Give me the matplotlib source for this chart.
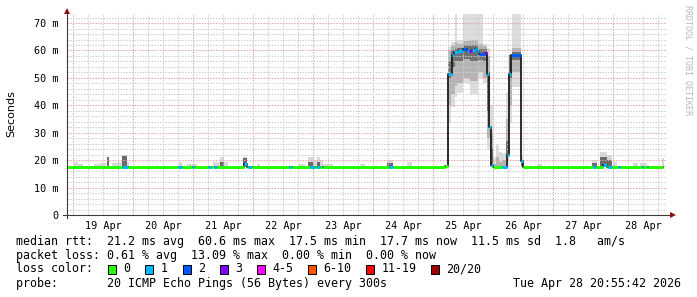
import matplotlib
matplotlib.use("Agg")
import matplotlib.pyplot as plt
from matplotlib.patches import Rectangle

# Data (time in hours since 19 Apr 00:00, rtt in ms)
#========================================#
day_labels = ["19 Apr", "20 Apr", "21 Apr", "22 Apr", "23 Apr",
              "24 Apr", "25 Apr", "26 Apr", "27 Apr", "28 Apr"]

# median rtt as steps: start of each step, value, loss class
seg_start = [-2.4, 19.6, 22.0, 42.0, 43.4, 47.6, 48.4, 54.0, 55.0, 56.2,
             57.4, 68.4, 69.6, 70.0, 71.6, 86.4, 87.6, 94.8, 96.8, 97.6,
             98.8, 99.6, 100.0, 126.4, 128.0, 148.8, 149.8, 151.5, 152.4, 154.0,
             155.9, 157.5, 158.5, 159.5, 160.8, 161.7, 162.5, 164.8, 165.7, 166.5,
             167.2, 168.1, 171.5, 173.5, 174.4, 175.3, 179.0, 180.1, 208.0, 209.2,
             212.1, 213.5, 214.1, 215.5, 218.0, 218.8, 227.5, 228.1, 229.5, 230.1]
seg_value = [17.5, 17.5, 17.5, 17.5, 17.5, 17.5, 17.5, 17.5, 17.5, 17.5,
             17.5, 18.6, 17.5, 17.5, 17.5, 17.5, 17.5, 17.5, 17.5, 17.5,
             17.5, 17.5, 17.5, 17.5, 17.5, 18.0, 51.3, 58.4, 59.4, 59.8,
             60.7, 59.8, 59.8, 60.1, 60.7, 59.8, 58.8, 59.2, 51.5, 32.0,
             18.2, 17.5, 17.5, 21.8, 51.3, 58.5, 19.8, 17.5, 17.5, 17.5,
             18.3, 17.5, 17.5, 17.5, 17.5, 17.5, 17.5, 17.5, 17.5, 17.5]
seg_loss = [0, 1, 0, 1, 0, 1, 0, 1, 0, 1,
            0, 1, 0, 1, 0, 1, 0, 1, 0, 1,
            0, 1, 0, 1, 0, 0, 1, 1, 1, 1,
            2, 1, 3, 1, 1, 1, 2, 3, 1, 1,
            1, 0, 1, 1, 1, 2, 1, 0, 1, 0,
            1, 0, 1, 0, 1, 0, 1, 0, 1, 0]
data_end = 236.1

# small smoke bursts above the baseline
burst_t0 = [0.4, 2.0, 8.4, 10.8, 13.6, 15.6, 17.6, 19.6, 21.6, 42.4,
            45.6, 56.0, 58.8, 60.4, 68.0, 73.6, 90.0, 94.0, 96.0, 97.6,
            98.8, 100.0, 114.8, 125.6, 133.6, 185.6, 207.6, 210.8, 213.6, 216.0,
            224.0, 226.8, 235.6]
burst_t1 = [2.0, 4.0, 10.8, 13.2, 14.4, 17.6, 19.6, 21.6, 22.4, 43.6,
            49.6, 58.8, 60.4, 62.0, 69.6, 74.8, 92.8, 96.0, 97.6, 98.8,
            100.0, 104.0, 116.8, 128.0, 135.6, 187.6, 209.6, 213.6, 215.6, 217.6,
            226.0, 229.6, 236.4]
burst_hi = [19.3, 18.7, 18.7, 19.0, 21.3, 18.8, 19.2, 21.9, 19.2, 19.3,
            18.7, 19.5, 21.0, 19.5, 21.3, 18.5, 18.7, 21.0, 20.0, 21.0,
            20.0, 18.7, 18.7, 19.9, 19.5, 18.7, 20.2, 23.1, 21.9, 19.5,
            18.9, 18.9, 20.7]
burst_core = [0, 0, 0, 0, 21.0, 0, 0, 21.5, 0, 0,
              0, 0, 19.5, 0, 20.8, 0, 0, 19.5, 0, 19.5,
              0, 0, 0, 19.0, 0, 0, 19.0, 21.3, 20.0, 0,
              0, 0, 0]
burst_base = 17.5

# smoke during the high latency period
plat_t0 = [150.0, 151.2, 152.8, 153.6, 156.0, 158.8, 162.0, 164.0, 165.6,
           166.8, 168.0, 169.2, 170.4, 171.6, 173.2, 174.4, 175.6, 179.2]
plat_t1 = [151.2, 152.8, 153.6, 156.0, 158.8, 162.0, 164.0, 165.6, 166.8,
           168.0, 169.2, 170.4, 171.6, 173.2, 174.4, 175.6, 179.2, 180.0]
light_lo = [33.4, 39.5, 43.1, 44.4, 48.0, 44.0, 50.0, 48.0, 23.7,
            17.5, 17.5, 17.5, 17.5, 17.5, 20.0, 33.5, 46.8, 17.5]
light_hi = [61.4, 63.2, 73.6, 63.8, 73.6, 73.6, 73.6, 62.5, 60.8,
            40.0, 21.0, 25.5, 23.0, 22.5, 45.0, 56.5, 73.6, 22.0]
mid_lo = [40, 44, 47, 48, 50, 49, 52, 50, 28,
          17.5, 17.5, 17.5, 17.5, 17.5, 21, 40, 52, 17.5]
mid_hi = [60, 62, 63, 62.5, 63.5, 64, 62.5, 61.5, 58,
          30, 18.5, 21, 19.5, 20, 35, 58, 61, 20]
core_lo = [50, 54, 56, 56, 57, 56, 56.5, 56, 38,
           17.5, 17.5, 17.5, 17.5, 17.5, 22, 50, 56.5, 17.5]
core_hi = [56, 60, 60.5, 61, 62, 62, 60.5, 60.5, 52,
           24, 17.5, 17.5, 17.5, 17.5, 27, 58.5, 59.5, 19]

loss_colors = ["#26ff00", "#00b8ff", "#0059ff", "#7e00ff",
               "#ff00ff", "#ff5500", "#ff0000", "#a10000"]
loss_labels = ["0", "1", "2", "3", "4-5", "6-10", "11-19", "20/20"]

rtt_line = "median rtt:  21.2 ms avg  60.6 ms max  17.5 ms min  17.7 ms now  11.5 ms sd  1.8   am/s"
loss_line = "packet loss: 0.61 % avg  13.09 % max  0.00 % min  0.00 % now"
probe_line = "probe:       20 ICMP Echo Pings (56 Bytes) every 300s"
stamp = "Tue Apr 28 20:55:42 2026"

#========================================#
W, H = 697, 297
fig = plt.figure(figsize=(W / 100, H / 100), dpi=100)
fig.patch.set_facecolor("white")

x0, x1, y0, y1 = 67, 667, 215, 14   # plot area in pixels
ax = fig.add_axes([x0 / W, 1 - y0 / H, (x1 - x0) / W, (y0 - y1) / H])
ax.set_xlim(-2.4, 237.6)
ax.set_ylim(0, 73.3)
for s in ax.spines.values():
    s.set_visible(False)

mono = "DejaVu Sans Mono"

# smoke
ax.bar(burst_t0, [h - burst_base for h in burst_hi],
       width=[b - a for a, b in zip(burst_t0, burst_t1)], bottom=burst_base,
       align="edge", color="#d8d8d8", linewidth=0, zorder=1)
core_idx = [i for i, c in enumerate(burst_core) if c > 0]
ax.bar([burst_t0[i] for i in core_idx], [burst_core[i] - burst_base for i in core_idx],
       width=[burst_t1[i] - burst_t0[i] for i in core_idx], bottom=burst_base,
       align="edge", color="#6a6a6a", linewidth=0, zorder=1.2)

widths = [b - a for a, b in zip(plat_t0, plat_t1)]
for lo, hi, col, z in [(light_lo, light_hi, "#dddddd", 1),
                       (mid_lo, mid_hi, "#b4b4b4", 1.1),
                       (core_lo, core_hi, "#717171", 1.2)]:
    ax.bar(plat_t0, [b - a for a, b in zip(lo, hi)], width=widths, bottom=lo,
           align="edge", color=col, linewidth=0, zorder=z)

# grid
grid_dash = (0, (1.4, 1.4))
for h in range(0, 240, 6):
    if -2.4 < h < 237.6:
        major = h % 24 == 0
        ax.axvline(h, color="#e3a3a3" if major else "#cccccc", lw=0.72,
                   ls=grid_dash, zorder=2)
for v in range(2, 74, 2):
    major = v % 10 == 0
    ax.axhline(v, color="#e3a3a3" if major else "#cccccc", lw=0.72,
               ls=grid_dash, zorder=2)

# median line (dark) and loss coloured segments
ends = seg_start[1:] + [data_end]
ax.step(seg_start + [data_end], seg_value + [seg_value[-1]], where="post",
        color="#1e1e1e", lw=1.3, zorder=3)
for a, b, v, l in zip(seg_start, ends, seg_value, seg_loss):
    ax.plot([a, b], [v, v], color=loss_colors[l], lw=2.2,
            solid_capstyle="butt", zorder=4)

# axes with arrows
axis_col = "#3c3c3c"
arrow_col = "#8b1010"
dx = 1.0 / (x1 - x0)
dy = 1.0 / (y0 - y1)
ax.plot([-4 * dx, 1 + 4 * dx], [0, 0], color=axis_col, lw=0.8,
        transform=ax.transAxes, clip_on=False, zorder=5)
ax.plot([0, 0], [-3 * dy, 1 + 2 * dy], color=axis_col, lw=0.8,
        transform=ax.transAxes, clip_on=False, zorder=5)
ax.plot([1 + 6 * dx], [0], marker=">", ms=4, color=arrow_col, mew=0,
        transform=ax.transAxes, clip_on=False, zorder=6)
ax.plot([0], [1 + 3 * dy], marker="^", ms=4, color=arrow_col, mew=0,
        transform=ax.transAxes, clip_on=False, zorder=6)

# ticks
yt = list(range(0, 80, 10))
ax.set_yticks(yt)
ax.set_yticklabels(["0"] + ["%d m" % v for v in yt[1:]], family=mono, fontsize=7.3)
ax.set_xticks([12 + 24 * i for i in range(len(day_labels))])
ax.set_xticklabels(day_labels, family=mono, fontsize=7.3)
ax.tick_params(axis="both", length=0, pad=4, colors="#000000")
ax.tick_params(axis="y", pad=6)

# labels
fig.text(11 / W, 1 - 114 / H, "Seconds", rotation=90, ha="center", va="center",
         fontsize=8, family="DejaVu Sans")
fig.text(688 / W, 1 - 60 / H, "RRDTOOL / TOBI OETIKER", rotation=270,
         ha="center", va="center", fontsize=6, family=mono, color="#b8b8b8")

# legend block
fs = 8.35
lx = 16
fig.text(lx / W, 1 - 241 / H, rtt_line, fontsize=fs, family=mono, va="center")
fig.text(lx / W, 1 - 255 / H, loss_line, fontsize=fs, family=mono, va="center")
fig.text(lx / W, 1 - 269 / H, "loss color:", fontsize=fs, family=mono, va="center")
fig.text(lx / W, 1 - 283 / H, probe_line, fontsize=fs, family=mono, va="center")
fig.text(681 / W, 1 - 283 / H, stamp, fontsize=fs, family=mono, va="center", ha="right")

box_x = [108, 145, 182.5, 219.5, 257, 308, 366, 431]
for bx, col, lab in zip(box_x, loss_colors, loss_labels):
    fig.patches.append(Rectangle((bx / W, 1 - 273.5 / H), 8 / W, 9 / H,
                                 transform=fig.transFigure, facecolor=col,
                                 edgecolor="black", lw=0.7))
    fig.text((bx + 15.5) / W, 1 - 269 / H, lab, fontsize=fs, family=mono, va="center")

fig.savefig("out.png", dpi=100)
